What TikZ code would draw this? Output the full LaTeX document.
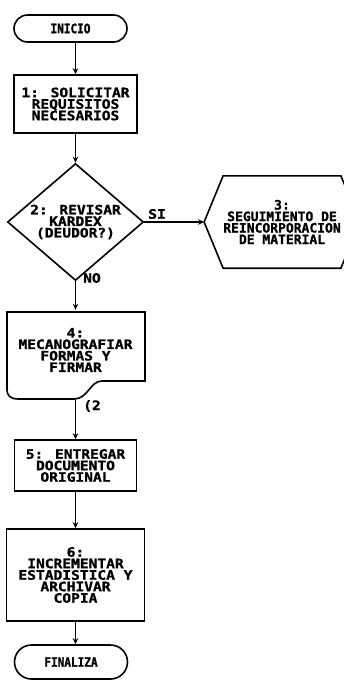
\documentclass[tikz,border=0pt]{standalone}
\usepackage{fontspec}
\newfontfamily\dm{DejaVu Sans Mono}[FakeStretch=1.12, BoldFeatures={FakeBold=1.2}]
\newfontfamily\dmh{DejaVu Sans Mono}[BoldFeatures={FakeBold=1.2}]
\newfontfamily\dmn{DejaVu Sans Mono}[FakeStretch=0.85, BoldFeatures={FakeBold=1.2}]
\usetikzlibrary{shapes.geometric,shapes.misc,arrows.meta}
\begin{document}
\begin{tikzpicture}[x=1pt,y=-1pt,
  every node/.style={font=\dm\bfseries\fontsize{13}{11.5}\selectfont, align=center, inner sep=0pt},
  outline/.style={line width=1.6pt},
  term/.style={rounded rectangle, draw, line width=1.6pt, font=\dmn\bfseries\fontsize{13}{12}\selectfont},
  proc/.style={rectangle, draw, line width=1.6pt},
  arr/.style={line width=1.6pt, -{Stealth[length=6pt,width=5.5pt]}},
  lbl/.style={font=\dm\bfseries\fontsize{13}{12}\selectfont}
]
\useasboundingbox (0,0) rectangle (344,687);

\node[term, minimum width=113pt, minimum height=27pt] (ini) at (70.5,28.5) {INICIO};
\node[proc, minimum width=123pt, minimum height=58pt] (b1) at (75.5,104) {1: SOLICITAR\\REQUISITOS\\NECESARIOS};
\node[diamond, draw, line width=1.6pt, minimum width=136pt, minimum height=117pt, aspect=1.16] (d2) at (75.5,222) {2: REVISAR\\KARDEX\\(DEUDOR?)};

% hexagon
\node[minimum width=84pt, minimum height=92pt, font=\dmh\bfseries\fontsize{13}{11.5}\selectfont] (hx) at (282,222) {3:\\SEGUIMIENTO DE\\REINCORPORACION\\DE MATERIAL};
\coordinate (hl) at ([xshift=-19pt]hx.west);
\coordinate (hr) at ([xshift=19pt]hx.east);
\draw[outline] (hx.north west) -- (hx.north east) -- (hr) -- (hx.south east) -- (hx.south west) -- (hl) -- cycle;

% document
\node[minimum width=138pt, minimum height=80pt] (b4) at (75.5,350) {4:\\MECANOGRAFIAR\\FORMAS Y\\FIRMAR};
\coordinate (b4b) at (75.5,399);
\draw[outline] (7,312) -- (145,312) -- (145,381) -- (102,381)
  .. controls (90,381) and (88,399) .. (74,399) -- (18,399)
  .. controls (10,399) and (7,395) .. (7,390) -- cycle;

\node[proc, minimum width=122pt, minimum height=51pt] (b5) at (75.5,465.5) {5: ENTREGAR\\DOCUMENTO\\ORIGINAL};
\node[proc, minimum width=138pt, minimum height=92pt] (b6) at (75.5,575) {6:\\INCREMENTAR\\ESTADISTICA Y\\ARCHIVAR\\COPIA};
\node[term, minimum width=113pt, minimum height=34pt] (fin) at (71,662) {FINALIZA};

\draw[arr] (b1.north |- ini.south) -- (b1.north);
\draw[arr] (b1.south) -- (d2.north);
\draw[arr] (d2.east) -- (hl);
\draw[arr] (d2.south) -- (b4.north);
\draw[arr] (b4b) -- (b5.north);
\draw[arr] (b5.south) -- (b6.north);
\draw[arr] (b6.south) -- (b6.south |- fin.north);

\node[lbl] (si) at (157,214) {SI};
\node[lbl] (no) at (92,278) {NO};
\node[lbl] (c2) at (92,406) {(2};
\end{tikzpicture}
\end{document}
